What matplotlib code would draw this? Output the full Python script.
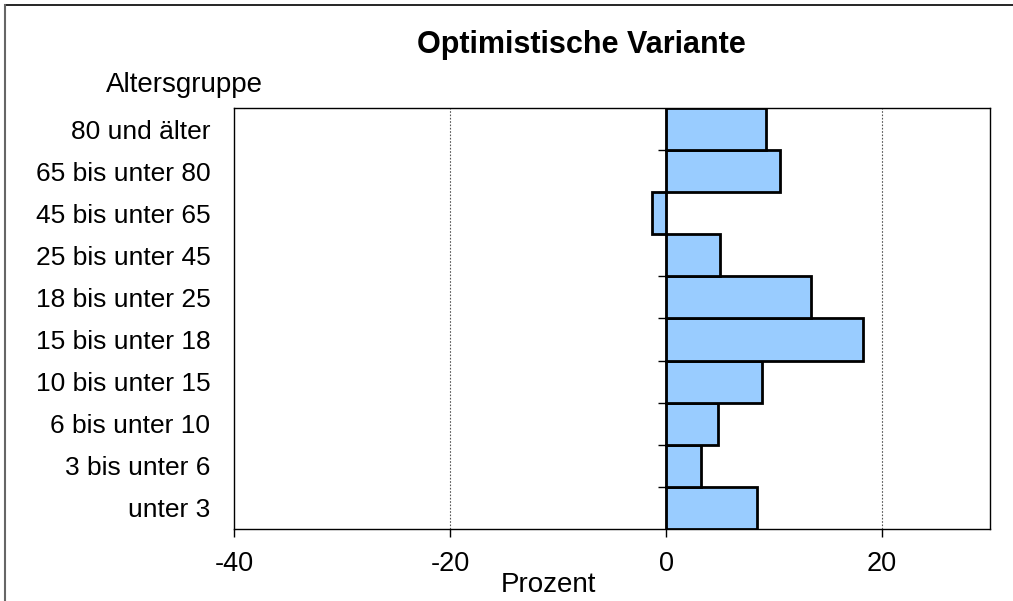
import numpy as np
import matplotlib.pyplot as plt
from matplotlib.lines import Line2D

plt.rcParams['font.family'] = ['Liberation Sans', 'DejaVu Sans']

groups = ['unter 3', '3 bis unter 6', '6 bis unter 10', '10 bis unter 15',
          '15 bis unter 18', '18 bis unter 25', '25 bis unter 45',
          '45 bis unter 65', '65 bis unter 80', '80 und älter']
values = [8.45, 3.27, 4.79, 8.86, 18.27, 13.4, 5.0, -1.32, 10.58, 9.23]
xticks = [-40, -20, 0, 20]

W, H = 1013, 601
fig = plt.figure(figsize=(W / 100, H / 100), dpi=100)
ax = fig.add_axes([234 / W, 1 - 529 / H, (990 - 234) / W, (529 - 108) / H])

y = np.arange(len(groups))
ax.barh(y, values, height=1.0, color='#99ccff', edgecolor='black',
        linewidth=2, zorder=3)

ax.set_xlim(-40, 30)
ax.set_ylim(-0.5, len(groups) - 0.5)
ax.set_xticks(xticks)
ax.set_xticklabels([str(t) for t in xticks], fontsize=19.5)
ax.set_yticks(y)
ax.set_yticklabels(groups, fontsize=19)
ax.tick_params(axis='y', length=0, pad=17)
ax.tick_params(axis='x', length=6, width=1, pad=10, direction='out')

for t in xticks[1:]:
    ax.axvline(t, color='#555555', linestyle=(0, (1.5, 1.5)), linewidth=0.8,
               zorder=1)
ax.axvline(0, color='black', linewidth=1, zorder=4)
# small ticks on the zero axis at category borders
ax.hlines(y[1:] - 0.5, -0.7, 0, color='black', linewidth=1, zorder=4)

for s in ax.spines.values():
    s.set_linewidth(1)
    s.set_color('black')

fig.text(581 / W, 1 - 45 / H, 'Optimistische Variante', fontsize=22,
         fontweight='bold', ha='center', va='center')
fig.text(184 / W, 1 - 85 / H, 'Altersgruppe', fontsize=20,
         ha='center', va='center')
fig.text(548 / W, 1 - 585 / H, 'Prozent', fontsize=20,
         ha='center', va='center')

# frame lines at top and left of the figure
fig.add_artist(Line2D([5 / W, 1], [1 - 5 / H, 1 - 5 / H],
                      transform=fig.transFigure, color='black', linewidth=1.2))
fig.add_artist(Line2D([5 / W, 5 / W], [0, 1 - 5 / H],
                      transform=fig.transFigure, color='#666666', linewidth=1.5))

fig.savefig('out.png', dpi=100)
